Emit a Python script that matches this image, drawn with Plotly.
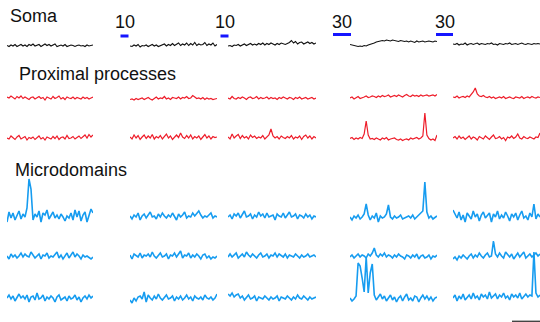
import plotly.graph_objects as go

W, H = 540, 322

# ---- data (relative dF values, one list per column, 44 samples each) ----
soma = [
    [0.5,-0.5,1,0,1.5,-0.5,0.5,1.5,0,1,-0.5,1.5,0.5,2,0,1,1.5,-0.5,1,2,0.5,1.5,0,1,2,-0.5,0.5,1,0,1.5,-0.5,0,1,0.5,-0.5,0.5,1,0,0.5,-0.5,1,0,0.5,1],
    [0,-0.5,1,0,1.5,-1,0.5,0,1,-0.5,0.5,1.5,0,1,-0.5,0.5,1,2,0,1.5,0.5,2.5,0.5,1.5,3,0.5,2,1,3,0.5,2.5,1,3.5,0.5,2,1,1.5,3.5,0.5,2,1,3,0,1.5],
    [0,0.5,-0.5,1,0.5,1.5,0,1,2,0.5,1.5,2.5,1,2,1,2.5,1.5,3,1,2.5,1.5,3,2,1,2.5,1.5,3,2,1.5,2.5,3.5,5.5,3,4.5,2,3.5,4,2,3,4,2.5,3.5,2,3],
    [1.5,1,0.5,0,-0.5,0,-0.5,0.5,0,1,1.5,2.5,3,4,4.5,5,5.5,5,6,5.5,5,6,5.5,5,4.5,5.5,5,4.5,5,4,5,4.5,3.5,5,4,4.5,5,4,4.5,5,4.5,4,5,4.5],
    [2,1.5,2.5,1,2,1.5,3,1,2,2.5,1.5,2,3,1.5,2.5,2,1.5,2.5,2,3,1.5,2,1,2.5,2,1.5,2.5,2,3,1.5,2,2.5,1.5,2,3,2,1.5,2.5,2,1.5,2.5,2,2.5,2],
]
prox1 = [
    [1,0,2,0.5,-1,1.5,0,2,-0.5,1,0,-1.5,0.5,1,-1,0,1.5,-0.5,0.5,-2,1,0,-1,1.5,-0.5,0.5,2,-1,0.5,-1.5,1,0,-0.5,1,-1,0.5,0,-1,1,-0.5,0.5,-1,0,1],
    [-1.5,-1,-2,-0.5,-1.5,-1,0,-1.5,-0.5,0.5,-1,-2,-0.5,1,-1,0,-0.5,1.5,-1,0,-1.5,0.5,0,-0.5,1,-1,0.5,0,1.5,-0.5,0,2.5,1,-0.5,0,-1,0.5,-1.5,0,-1,-0.5,-1.5,-1,-0.5],
    [0,-1,1.5,-0.5,-1,0.5,-0.5,1,0,-1.5,0.5,1,-0.5,0,1.5,-1,0.5,-0.5,0,1,-1,0.5,-0.5,0,-1.5,0.5,-0.5,1,0,-1,0.5,0,-1.5,0.5,-0.5,1,-1,0,0.5,-1,-0.5,0.5,-1,0],
    [0,1,-1,0.5,1.5,-0.5,0,1,2,0.5,1,2,1.5,0.5,2,1,2.5,1.5,2,3,1,2,2.5,1.5,3,2,1,2.5,3.5,2,1.5,3,2,2.5,1.5,3,2,2.5,3,2,2.5,3,2,3.5],
    [1,0.5,2,0,1,1.5,0.5,2,1,3,6,10,4,2,1.5,2.5,1,0.5,1.5,0,1,-0.5,0.5,1,0,1.5,-0.5,0.5,1,0,-0.5,1,0.5,0,1.5,-0.5,0.5,1,0,1.5,0.5,0,1,0.5],
]
prox2 = [
    [0,-1,2,0.5,-1.5,1,2.5,-1,0,1.5,-2,0.5,-0.5,1,-1.5,0,2,-1,0.5,-2,1,0,-1,1.5,-0.5,2,-1.5,0.5,1,-1,2.5,-0.5,0,1.5,-1,0.5,2,-0.5,1,3,0,3.5,1,3],
    [1,-1,3,0,2.5,-1.5,1,3,-0.5,2,0,3.5,-1,1.5,0,2.5,-1,1,4,0,2,-1.5,1,3,0.5,5,1,-0.5,2.5,0,3,-1,1.5,0,2,-1.5,1,3.5,0,2,-1,1.5,0.5,1],
    [1,-1,4,0,2,3.5,-0.5,2.5,0,1.5,-1,3,0.5,2,-0.5,1,0,2.5,-1,1,3,9,2,0,1.5,-1,2,0.5,-0.5,1.5,0,2.5,-1,1,0,2,-1.5,1.5,3,0,2,-1,1.5,0],
    [-0.5,0.5,-1.5,0,-1,0.5,-0.5,4,17,3,-1,-0.5,-1.5,0,-1,-2,0,-1,0.5,-2,-1,-0.5,0,-1.5,-2,-1,-2.5,-1.5,-1,-2,0,-1,-0.5,0.5,-1,0,2,25,3,-0.5,-2,-1,-2.5,3],
    [0,1.5,-1,2,-0.5,1,-1.5,0.5,2,-1,1,0,-2,1.5,0,-1,2,0.5,-1.5,1,3,-0.5,0,1.5,-1,0.5,-2.5,1,0,2,-0.5,1,4,0,-1,1.5,0,-0.5,1,0,-1,1,0.5,5],
]
micro1 = [
    [-6,4,-2,3,-4,1,5,-3,2,-1,8,37,27,-4,2,-1,5,-6,3,1,6,-3,0,4,-2,1,-3,2,-1,-5,0,-2,3,-4,6,-1,5,-5,1,4,-6,2,7,3],
    [0,-3,1,-1,3,-4,0,2,-2,1,4,-1,0,-3,2,-1,3,0,-2,1,-1,3,0,-4,2,-1,1,4,-2,0,-1,3,0,2,5,1,-2,0,-1,1,3,-2,0,-1],
    [-1,1,-3,2,0,3,-2,1,5,-1,0,2,-3,1,-1,4,0,2,-2,3,-1,0,1,-4,2,0,-1,3,-2,1,4,-1,0,2,-3,1,0,-2,2,-1,1,-3,0,-1],
    [-1,-4,0,-2,1,-3,-1,2,12,1,-4,0,-2,3,-6,0,-2,-1,2,11,-1,-3,0,-2,-1,1,-3,-2,-1,0,-2,1,-3,-1,0,2,5,34,4,-2,0,-3,-1,0],
    [6,2,-2,4,-4,1,-6,3,0,-3,5,-1,2,-5,1,4,-2,0,3,-6,2,-1,5,-3,1,-2,4,0,-5,2,-1,3,-4,1,5,-2,0,-4,3,-1,12,-3,2,-1],
]
micro2 = [
    [0,-3,2,-1,1,-2,0,3,-1,2,0,-1,4,1,-2,0,2,-3,1,0,3,-2,0,-1,2,4,-2,1,-3,0,3,-2,1,4,-1,2,0,-3,1,-1,0,-2,-3,-1],
    [1,-3,2,0,-1,3,-2,1,0,2,-1,4,0,-2,1,3,-1,0,2,-3,1,0,3,-1,2,5,-2,1,0,3,-2,1,-1,2,0,-3,1,2,-2,0,-3,-1,-2,0],
    [-1,2,-1,1,3,-2,0,2,-1,4,1,-1,2,0,-2,1,3,-1,0,2,-2,1,0,3,-1,2,0,-1,2,-2,1,0,-1,2,0,-2,1,-1,0,2,-1,0,1,-1],
    [-1,1,-2,0,2,-1,1,0,-2,2,0,3,8,1,-1,2,0,3,-1,1,0,-2,1,-1,2,0,-1,-3,1,0,-2,1,-1,2,-3,0,1,-2,-1,1,-3,0,-1,1],
    [-3,-1,-4,0,-2,1,-1,-3,0,2,-2,1,-1,3,0,-2,1,3,-1,0,15,2,-1,3,0,-2,4,1,-1,2,-3,0,3,-1,1,4,-2,0,2,-1,1,3,0,2],
]
micro3 = [
    [0,3,-1,2,-3,1,4,0,2,-1,3,-4,1,2,-2,5,-1,0,3,-3,1,-1,2,0,-4,1,3,-2,0,1,-3,2,-1,0,3,-2,1,-4,0,2,-1,3,0,2],
    [-2,-5,0,-3,1,2,-1,6,-4,3,0,-2,2,-1,4,0,-2,1,3,-1,0,2,-3,1,-1,2,-2,0,3,-1,1,-3,2,0,-1,1,-2,3,0,-1,1,-2,0,4],
    [4,2,5,1,3,4,0,2,-2,1,3,-1,0,2,-3,1,0,-1,2,0,-2,1,-1,0,2,-3,1,0,-1,2,0,-2,1,-1,3,0,-1,2,0,-2,1,-1,0,1],
    [0,-3,-1,2,35,32,20,6,41,5,25,34,3,-2,1,4,-1,2,-3,0,3,-2,1,-4,0,2,-3,1,4,-2,0,-3,2,1,-4,0,3,-1,2,-2,1,-3,0,1],
    [0,3,-3,2,-1,4,-2,1,3,-1,5,0,2,-2,4,1,3,-1,6,0,2,4,-1,3,1,5,0,2,-2,4,1,3,0,5,-1,2,4,1,3,2,46,5,1,3],
]
stim_labels = ["10", "10", "30", "30"]
section_labels = ["Soma", "Proximal processes", "Microdomains"]

# ---- layout geometry (pixels) ----
col_px = [(7, 93), (130, 217), (228, 316), (350, 437), (453, 541)]
row_base_px = [46, 98, 138, 216, 256, 298]
rows = [soma, prox1, prox2, micro1, micro2, micro3]
row_color = ["#111111", "#ee1d2a", "#ee1d2a", "#169cf0", "#169cf0", "#169cf0"]
row_width = [1.1, 1.2, 1.2, 1.6, 1.6, 1.6]

fig = go.Figure()
for r, data in enumerate(rows):
    for c, vals in enumerate(data):
        xa = "x" if c == 0 else f"x{c+1}"
        ya = "y" if r == 0 else f"y{r+1}"
        fig.add_trace(go.Scatter(
            x=list(range(len(vals))), y=vals, mode="lines",
            line=dict(color=row_color[r], width=row_width[r]),
            xaxis=xa, yaxis=ya, hoverinfo="skip", showlegend=False))

layout = dict(width=W, height=H, margin=dict(l=0, r=0, t=0, b=0),
              paper_bgcolor="white", plot_bgcolor="rgba(0,0,0,0)", showlegend=False)
for c, (a, b) in enumerate(col_px):
    key = "xaxis" if c == 0 else f"xaxis{c+1}"
    layout[key] = dict(domain=[a / W, min(b / W, 1.0)], range=[0, 43], visible=False,
                       fixedrange=True)
for r, p in enumerate(row_base_px):
    key = "yaxis" if r == 0 else f"yaxis{r+1}"
    layout[key] = dict(domain=[0, 1], range=[p - H, p], visible=False, fixedrange=True)
fig.update_layout(**layout)

def py(p):
    return 1 - p / H

font = dict(family="Liberation Sans, Arial, sans-serif", color="#111111")

# stimulus bars + labels
bars = [(120.5, 128.5, 34.5, 37.5), (220.5, 228.5, 34.5, 37.5),
        (333, 351, 33, 36), (436, 453, 33, 36)]
for (x0, x1, y0, y1), lab in zip(bars, stim_labels):
    fig.add_shape(type="rect", xref="paper", yref="paper", x0=x0 / W, x1=x1 / W,
                  y0=py(y1), y1=py(y0), fillcolor="#1515ff", line=dict(width=0))
    fig.add_annotation(text=lab, xref="paper", yref="paper", x=(x0 + x1) / 2 / W,
                       y=py(21.5), xanchor="center", yanchor="middle", showarrow=False,
                       font=dict(size=18, **font))

# section labels
for lab, (x, y) in zip(section_labels, [(9, 16), (18, 74.5), (14, 169.5)]):
    fig.add_annotation(text=lab, xref="paper", yref="paper", x=(x - 1) / W, y=py(y),
                       xanchor="left", yanchor="middle", showarrow=False,
                       font=dict(size=18, **font))

# scale bar
fig.add_shape(type="line", xref="paper", yref="paper", x0=512 / W, x1=1.0,
              y0=py(321.3), y1=py(321.3), line=dict(color="#444444", width=1.4))

fig.write_html("out.html", config={"displayModeBar": False},
               post_script="document.body.style.margin='0px';")
